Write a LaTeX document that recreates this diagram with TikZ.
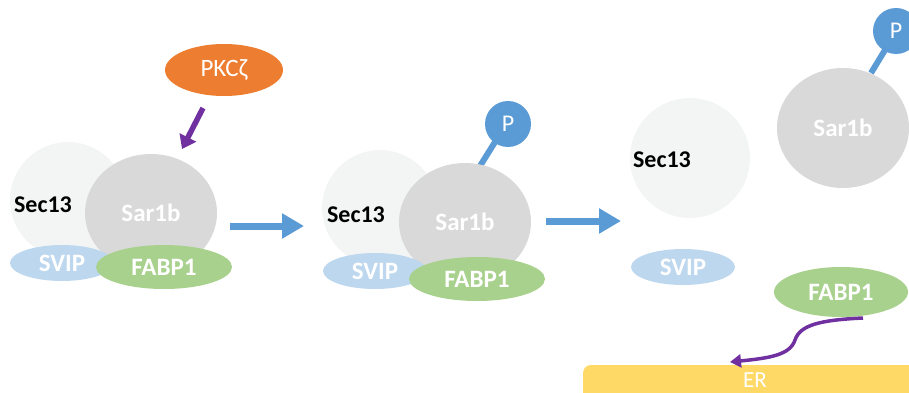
\documentclass[tikz,border=0pt]{standalone}
\usepackage{fontspec}
\setmainfont{Carlito}
\usetikzlibrary{shapes.geometric,arrows.meta}
\definecolor{secc}{HTML}{F3F5F4}
\definecolor{sarc}{HTML}{D9D9D9}
\definecolor{svipc}{HTML}{BDD7EE}
\definecolor{fabpc}{HTML}{A9D18E}
\definecolor{pkcc}{HTML}{ED7D31}
\definecolor{pc}{HTML}{5B9BD5}
\definecolor{purp}{HTML}{7030A0}
\definecolor{erc}{HTML}{FFD966}
\tikzset{
  blob/.style={ellipse,inner sep=0pt,text=white,font=\fontsize{25}{25}\selectfont\bfseries},
  secblob/.style={blob,fill=secc},
  sarblob/.style={blob,fill=sarc,minimum width=132pt,minimum height=118pt},
  svipblob/.style={blob,fill=svipc,minimum width=104pt,minimum height=36pt},
  fabpblob/.style={blob,fill=fabpc,minimum width=136pt,minimum height=44pt},
  seclabel/.style={font=\fontsize{24}{24}\selectfont\bfseries,text=black,inner sep=0pt},
  pball/.style={circle,fill=pc,minimum size=46pt,inner sep=0pt,text=white,font=\fontsize{24}{24}\selectfont},
  pstick/.style={draw=pc,line width=6pt},
  steparrow/.style={draw=pc,line width=7pt,-{Triangle[length=22pt,width=24pt]}},
  purparrow/.style={draw=purp,line width=5.5pt,-{Triangle[length=13pt,width=18pt]}},
}
\begin{document}
\begin{tikzpicture}[x=1pt,y=-1pt]
\useasboundingbox (0,0) rectangle (909,393);
% ER
\fill[erc,rounded corners=8pt] (583,365) rectangle (930,410);
\node[text=white,font=\fontsize{23}{23}\selectfont,inner sep=0pt] (er) at (755,380) {ER};

% Panel 1
\node[secblob,minimum width=116pt,minimum height=116pt] (sec1) at (68,200) {};
\node[seclabel] (sect1) at (43,205) {Sec13};
\node[sarblob] (sar1) at (151,213) {Sar1b};
\node[svipblob] (svip1) at (62,263) {SVIP};
\node[fabpblob] (fabp1) at (164,267) {FABP1};
\node[ellipse,fill=pkcc,minimum width=118pt,minimum height=52pt,inner sep=0pt,text=white,font=\fontsize{25}{25}\selectfont] (pkc) at (224,70) {PKCζ};
\coordinate (pk1) at (203,108);
\coordinate (pk2) at (182,149);
\draw[purparrow] (pk1) -- (pk2);
\coordinate (a1s) at (230,226);
\coordinate (a1e) at (304,226);
\draw[steparrow] (a1s) -- (a1e);

% Panel 2
\node[secblob,minimum width=116pt,minimum height=116pt] (sec2) at (380,208) {};
\node[seclabel] (sect2) at (356,215) {Sec13};
\coordinate (s2a) at (480,166);
\coordinate (s2b) at (495,142);
\draw[pstick] (s2a) -- (s2b);
\node[pball] (p2) at (508,124) {P};
\node[sarblob] (sar2) at (465,222) {Sar1b};
\node[svipblob] (svip2) at (375,271) {SVIP};
\node[fabpblob] (fabp2) at (477,279) {FABP1};
\coordinate (a2s) at (546,221);
\coordinate (a2e) at (621,221);
\draw[steparrow] (a2s) -- (a2e);

% Panel 3
\node[secblob,minimum width=120pt,minimum height=120pt] (sec3) at (690,158) {};
\node[seclabel] (sect3) at (662,160) {Sec13};
\coordinate (s3a) at (871,73);
\coordinate (s3b) at (885,50);
\draw[pstick] (s3a) -- (s3b);
\node[pball] (p3) at (896,31) {P};
\node[sarblob,minimum width=132pt,minimum height=120pt] (sar3) at (843,128) {Sar1b};
\node[svipblob] (svip3) at (683,267) {SVIP};
\node[fabpblob,minimum width=134pt,minimum height=50pt] (fabp3) at (841,292) {FABP1};
\coordinate (c3s) at (863,318);
\coordinate (c3e) at (730,362);
\draw[draw=purp,line width=3.5pt,-{Triangle[length=11pt,width=13pt]}]
  (c3s) .. controls (820,320) and (800,325) .. (795,340)
  .. controls (790,355) and (770,358) .. (c3e);
\end{tikzpicture}
\end{document}
